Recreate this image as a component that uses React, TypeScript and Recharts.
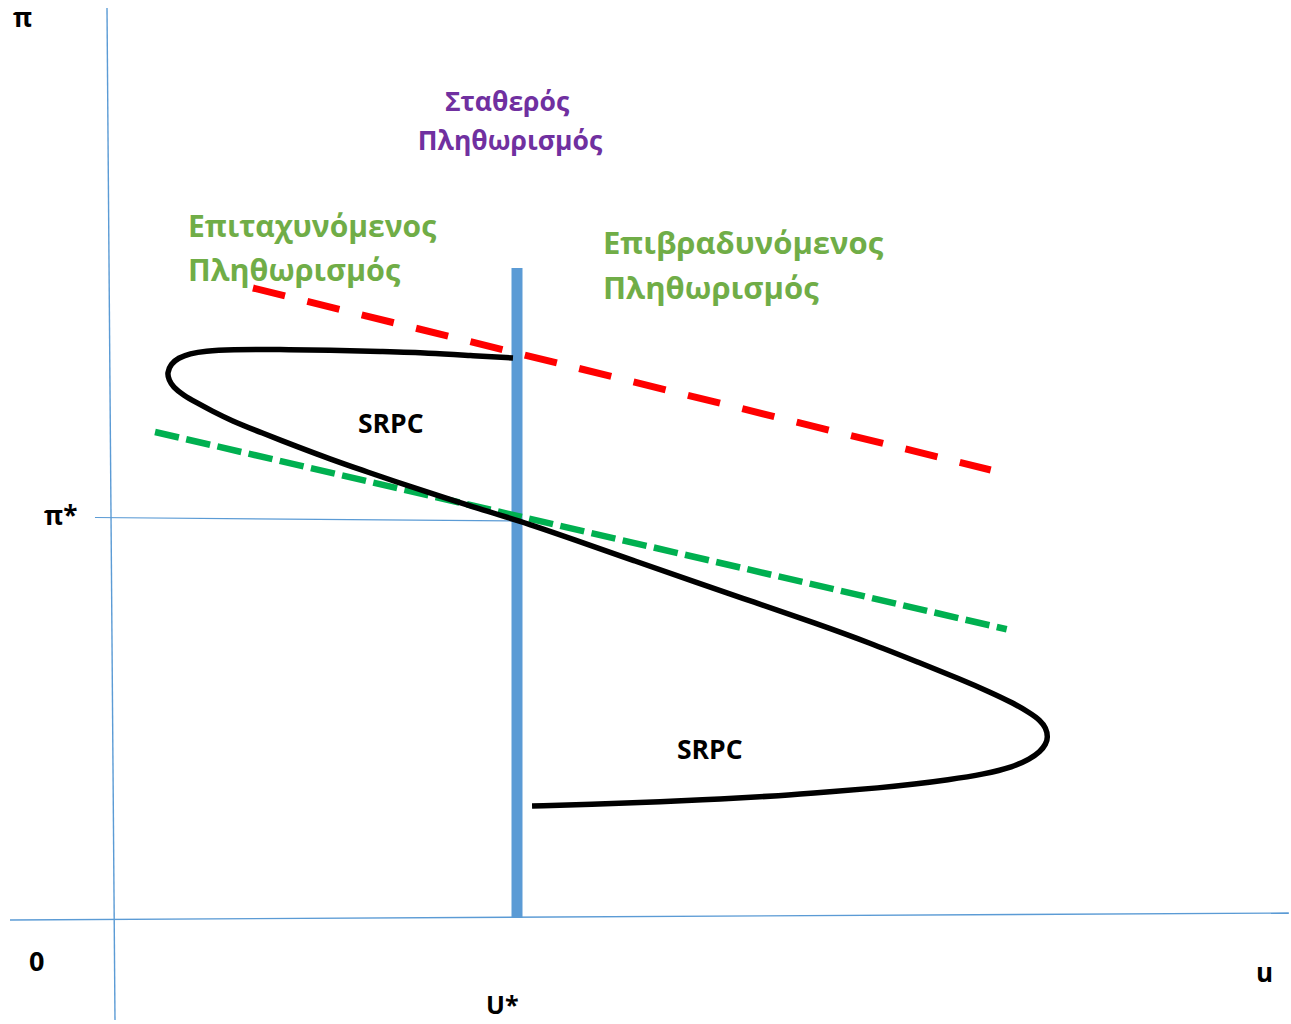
import React from "react";
import { LineChart, Line, XAxis, YAxis } from "recharts";

// Conceptual units: U* = 5 on the u axis, π* = 5 on the π axis
const U_STAR = 5;
const PI_STAR = 5;

const xDomain: [number, number] = [-1.4303, 14.6269];
const yDomain: [number, number] = [-1.325, 11.475];

// Short-run Phillips curve (ordered along the curve)
const srpcU = [
  4.95, 4.415, 3.918, 3.296, 2.674, 2.052, 1.43, 1.119, 0.933, 0.784, 0.697, 0.647, 0.672, 0.721,
  0.846, 1.02, 1.206, 1.43, 1.828, 2.264, 2.674, 3.085, 3.495, 3.918, 4.453, 5.0, 5.721, 6.468,
  7.214, 7.96, 8.706, 9.391, 10.012, 10.51, 10.883, 11.169, 11.381, 11.505, 11.58, 11.604, 11.58,
  11.505, 11.381, 11.169, 10.821, 10.348, 9.95, 9.515, 8.893, 8.271, 7.525, 6.779, 6.032, 5.187,
];
const srpcPi = [
  7.0, 7.031, 7.063, 7.081, 7.1, 7.106, 7.106, 7.088, 7.056, 7.0, 6.925, 6.813, 6.725, 6.638,
  6.538, 6.438, 6.338, 6.225, 6.063, 5.893, 5.738, 5.594, 5.453, 5.313, 5.138, 4.975, 4.725, 4.463,
  4.2, 3.945, 3.688, 3.438, 3.188, 2.988, 2.825, 2.688, 2.563, 2.475, 2.375, 2.263, 2.175, 2.075,
  1.988, 1.888, 1.8, 1.725, 1.675, 1.627, 1.577, 1.527, 1.487, 1.452, 1.425, 1.4,
];

// Accelerating-inflation expectations line (red dashed)
const redU = [1.716, 10.892];
const redPi = [7.875, 5.6];

// Stable-inflation line through (U*, π*) (green dashed)
const greenU = [0.498, 11.091];
const greenPi = [6.075, 3.609];

// Long-run vertical line at U*
const lrpcU = [U_STAR, U_STAR];
const lrpcPi = [0, 8.125];

// π* guide line
const piStarU = [-0.249, U_STAR];
const piStarPi = [PI_STAR + 0.006, PI_STAR - 0.037];

// Hand-drawn axes
const uAxisU = [-1.306, 14.6];
const uAxisPi = [-0.025, 0.062];
const piAxisU = [-0.0995, 0];
const piAxisPi = [11.375, -1.275];

const zip = (us: number[], ps: number[]) => us.map((u, i) => ({ u, pi: ps[i] }));

const srpcData = zip(srpcU, srpcPi);
const redData = zip(redU, redPi);
const greenData = zip(greenU, greenPi);
const lrpcData = zip(lrpcU, lrpcPi);
const piStarData = zip(piStarU, piStarPi);
const uAxisData = zip(uAxisU, uAxisPi);
const piAxisData = zip(piAxisU, piAxisPi);

const W = 1291;
const H = 1024;
const FONT = "'Open Sans', 'DejaVu Sans', sans-serif";

export default function App() {
  return (
    <div style={{ position: "absolute", left: 0, top: 0, width: W, height: H, background: "#fff" }}>
      <LineChart width={W} height={H} margin={{ top: 0, right: 0, bottom: 0, left: 0 }}>
        <XAxis type="number" dataKey="u" domain={xDomain} allowDataOverflow hide />
        <YAxis type="number" dataKey="pi" domain={yDomain} allowDataOverflow hide />
        <Line data={uAxisData} dataKey="pi" type="linear" stroke="#5b9bd5" strokeWidth={1.4} dot={false} activeDot={false} isAnimationActive={false} />
        <Line data={piAxisData} dataKey="pi" type="linear" stroke="#5b9bd5" strokeWidth={1.4} dot={false} activeDot={false} isAnimationActive={false} />
        <Line data={piStarData} dataKey="pi" type="linear" stroke="#5b9bd5" strokeWidth={1.2} dot={false} activeDot={false} isAnimationActive={false} />
        <Line data={lrpcData} dataKey="pi" type="linear" stroke="#5b9bd5" strokeWidth={11} dot={false} activeDot={false} isAnimationActive={false} />
        <Line data={redData} dataKey="pi" type="linear" stroke="#ff0000" strokeWidth={7} strokeDasharray="33 23" dot={false} activeDot={false} isAnimationActive={false} />
        <Line data={greenData} dataKey="pi" type="linear" stroke="#00b050" strokeWidth={6.5} strokeDasharray="24.5 7.5" dot={false} activeDot={false} isAnimationActive={false} />
        <Line data={srpcData} dataKey="pi" type="basis" stroke="#000" strokeWidth={5.5} dot={false} activeDot={false} isAnimationActive={false} />
      </LineChart>
      <svg width={W} height={H} style={{ position: "absolute", left: 0, top: 0, pointerEvents: "none" }}>
        <g fontFamily={FONT} fontWeight={700} fill="#000">
          <text x={13} y={27} fontSize={26}>π</text>
          <text x={44} y={525} fontSize={26}>π*</text>
          <text x={29} y={971} fontSize={27}>0</text>
          <text x={486} y={1014} fontSize={25}>U*</text>
          <text x={1256} y={982} fontSize={26}>u</text>
          <text x={358} y={433} fontSize={26.5}>SRPC</text>
          <text x={677} y={759} fontSize={26.5}>SRPC</text>
        </g>
        <g fontFamily={FONT} fontWeight={700} fill="#7030a0" fontSize={26.5} textAnchor="middle">
          <text x={507} y={111}>Σταθερός</text>
          <text x={510} y={150}>Πληθωρισμός</text>
        </g>
        <g fontFamily={FONT} fontWeight={700} fill="#70ad47">
          <text x={188} y={237} fontSize={30}>Επιταχυνόμενος</text>
          <text x={188} y={281} fontSize={30.5}>Πληθωρισμός</text>
          <text x={603} y={254} fontSize={31}>Επιβραδυνόμενος</text>
          <text x={603} y={299} fontSize={31}>Πληθωρισμός</text>
        </g>
      </svg>
    </div>
  );
}
